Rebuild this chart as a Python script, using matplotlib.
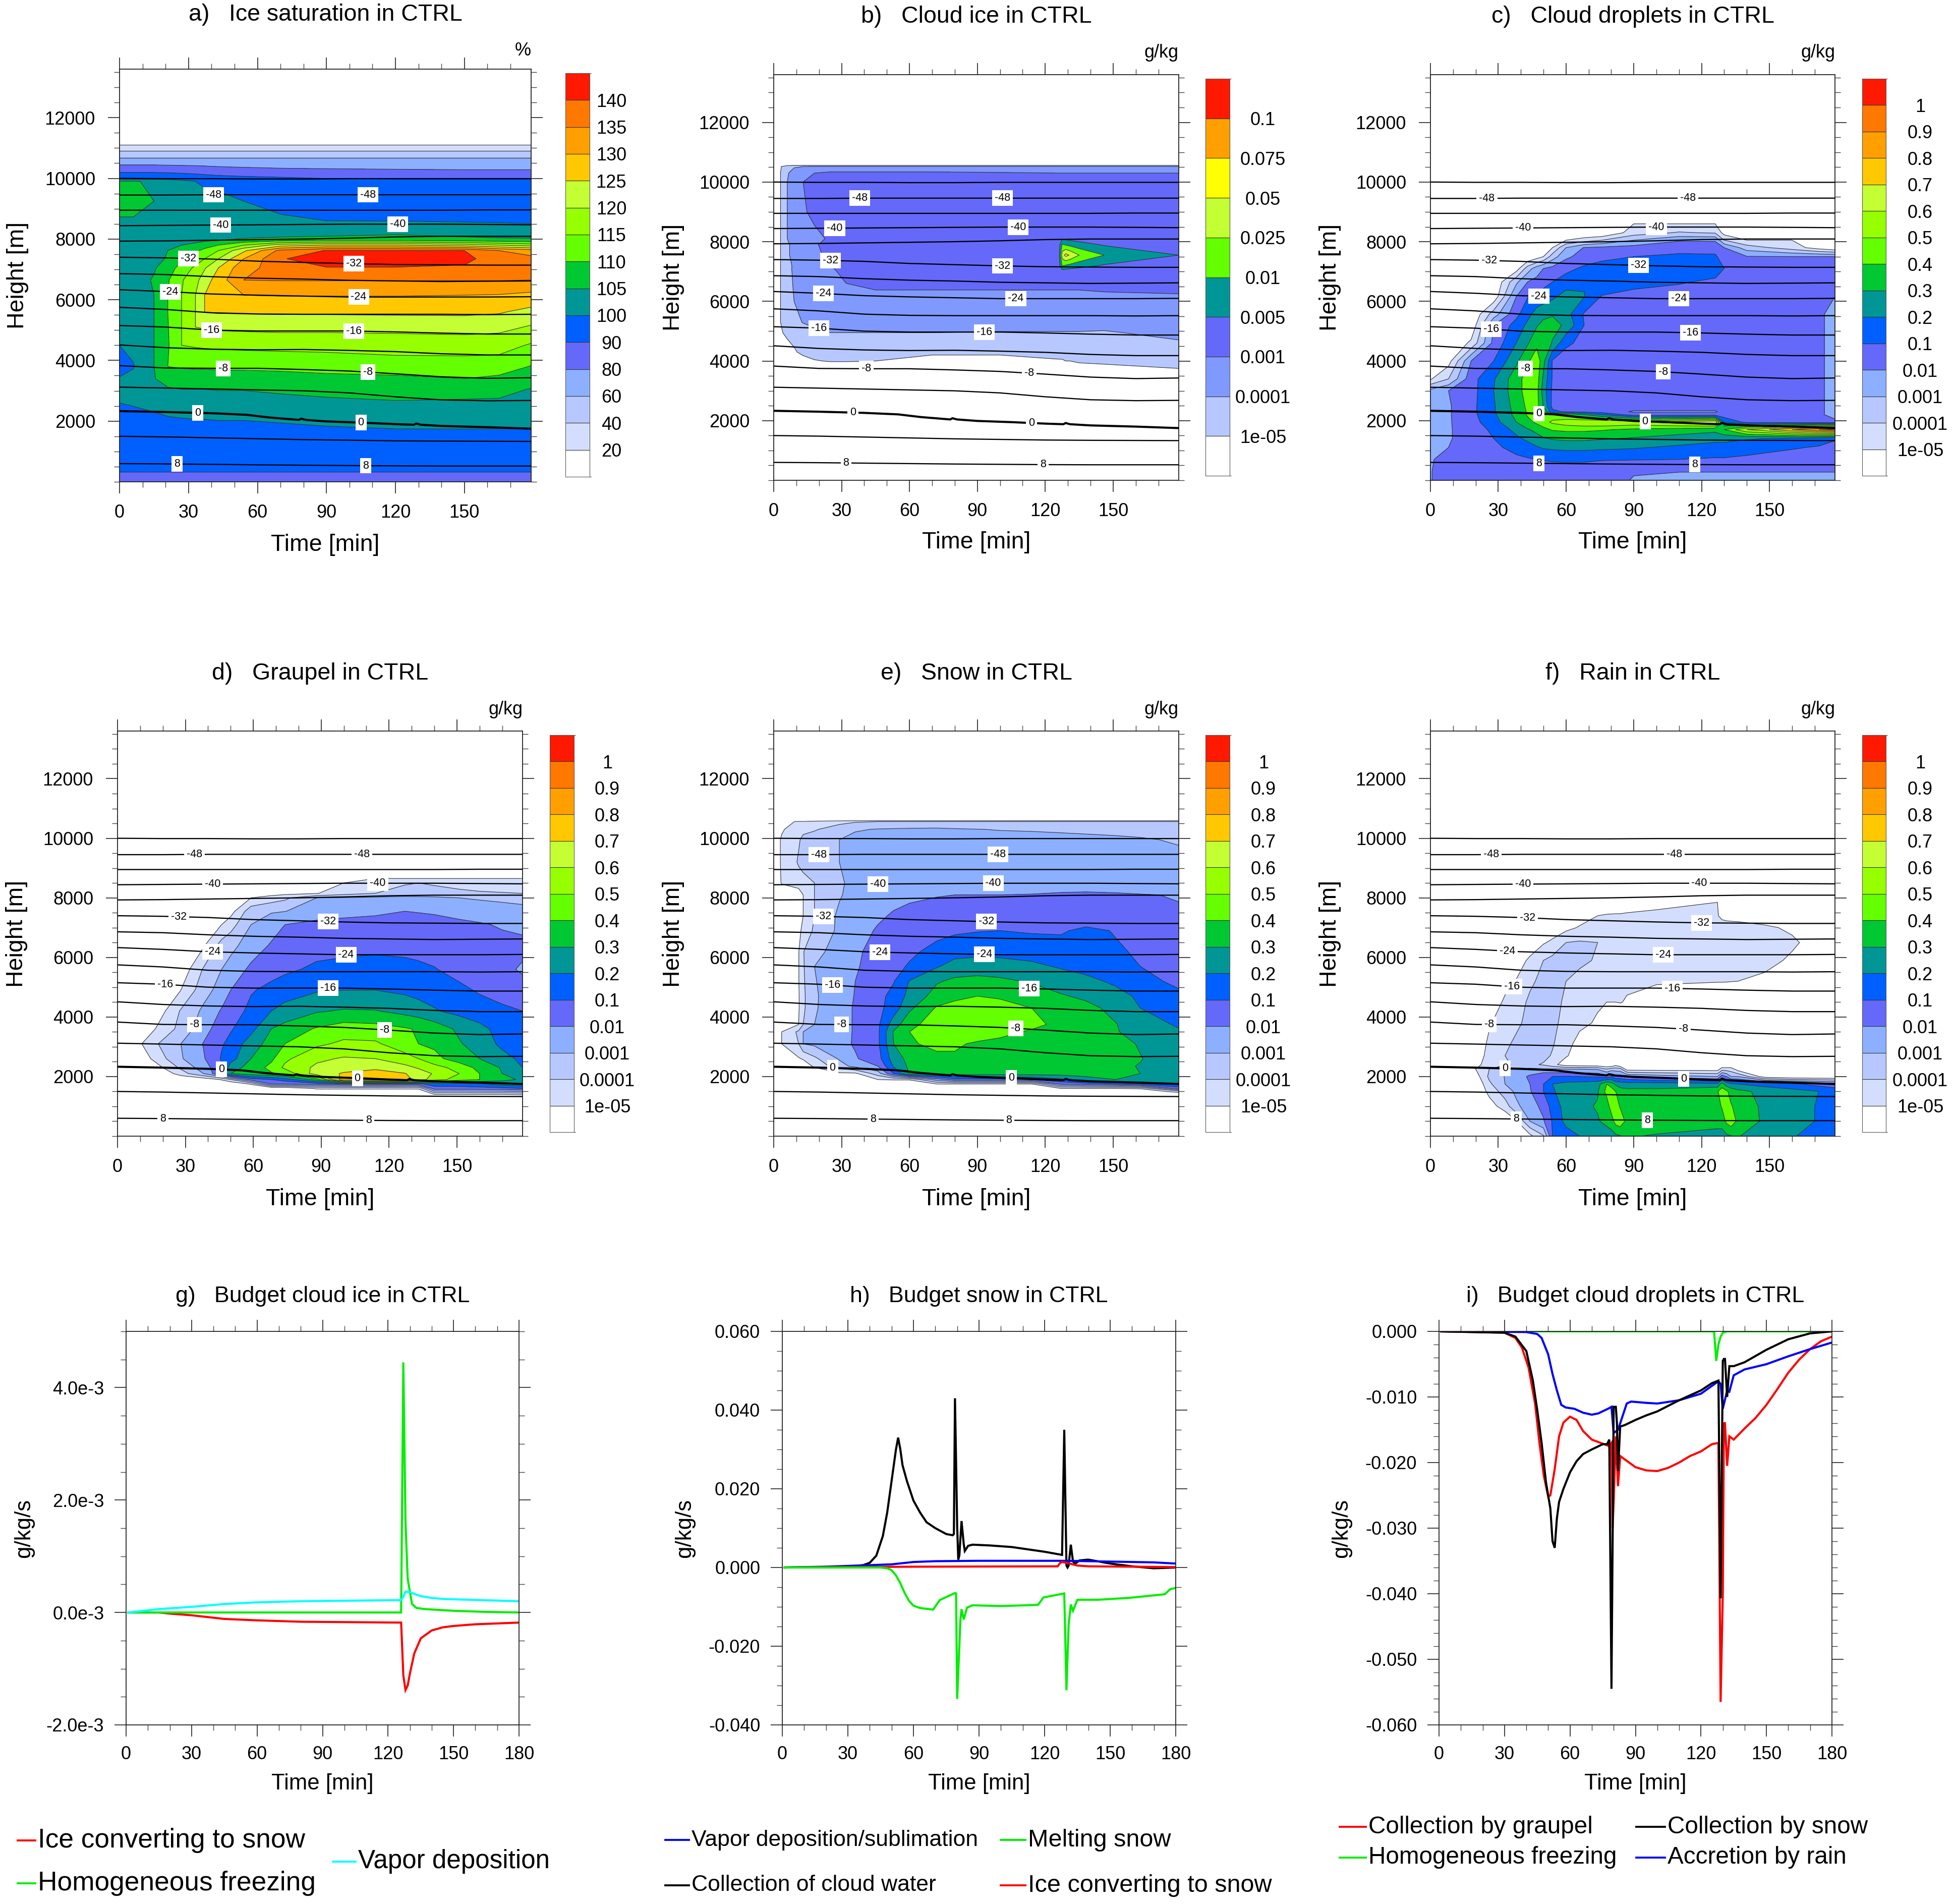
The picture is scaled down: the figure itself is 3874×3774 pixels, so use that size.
import numpy as np
import matplotlib
matplotlib.use('Agg')
import matplotlib.pyplot as plt
from matplotlib.colors import ListedColormap, BoundaryNorm
from matplotlib.lines import Line2D
from matplotlib.ticker import MultipleLocator

plt.rcParams['font.family'] = ['Liberation Sans', 'DejaVu Sans']
plt.rcParams['axes.unicode_minus'] = False

W, H = 3874, 3774

# colour tables, bottom band first
COLORS_FULL = ['#ffffff', '#d3deff', '#b6c8ff', '#8cb0ff', '#6469fa', '#0060ff', '#009696', '#00c832',
               '#64ff00', '#96ff00', '#c3ff32', '#ffc800', '#ffa000', '#ff7800', '#ff1900']
COLORS_ICE = ['#ffffff', '#b6c8ff', '#8099ff', '#6469fa', '#009696', '#64ff00', '#c3ff32', '#ffff00',
              '#ffa000', '#ff1900']

LEVELS_SAT = ['20', '40', '60', '80', '90', '100', '105', '110', '115', '120', '125', '130', '135', '140']
LEVELS_ICE = ['1e-05', '0.0001', '0.001', '0.005', '0.01', '0.025', '0.05', '0.075', '0.1']
LEVELS_Q = ['1e-05', '0.0001', '0.001', '0.01', '0.1', '0.2', '0.3', '0.4', '0.5', '0.6', '0.7', '0.8', '0.9', '1']

# fields are read off the picture as position on the colour scale:
# 3.5 means halfway between the 3rd and the 4th labelled level, below 1 is blank
T_A = [0, 6, 15, 21, 27, 33, 37, 43, 54, 70, 90, 120, 150, 165, 179]
Z_A = [0, 320, 1000, 1700, 2100, 2600, 3050, 3400, 3800, 4500, 5100, 5600, 6150, 6650, 7050, 7350, 7620, 7800,
       7950, 8150, 8600, 9250, 9900, 9980, 10300, 10680, 10900, 11110, 11130, 13600]
BAND_A = [
    [4.5] * 15,
    [5.0] * 15,
    [5.5] * 15,
    [5.5, 5.5, 5.5, 5.5, 5.5, 5.55, 5.55, 5.6, 5.6, 5.7, 5.85, 5.95, 5.95, 5.95, 5.95],
    [5.6, 5.65, 5.8, 5.95, 6.0, 6.05, 6.05, 6.1, 6.1, 6.2, 6.3, 6.4, 6.4, 6.4, 6.4],
    [6.0, 6.1, 6.3, 6.4, 6.45, 6.5, 6.5, 6.5, 6.5, 6.6, 6.75, 6.9, 6.85, 6.85, 6.7],
    [6.3, 6.4, 6.7, 6.9, 7.0, 7.0, 7.0, 7.05, 7.05, 7.2, 7.35, 7.45, 7.4, 7.3, 6.95],
    [6.05, 6.2, 6.95, 7.4, 7.5, 7.5, 7.5, 7.5, 7.55, 7.6, 7.7, 7.8, 8.0, 7.8, 7.6],
    [5.7, 5.95, 7.0, 8.0, 8.1, 8.15, 8.15, 8.2, 8.2, 8.25, 8.4, 8.5, 8.55, 8.5, 7.95],
    [6.0, 6.2, 7.0, 7.9, 9.0, 9.1, 9.15, 9.2, 9.25, 9.3, 9.3, 9.45, 9.45, 9.4, 8.9],
    [6.4, 6.45, 7.0, 7.95, 9.0, 10.0, 10.1, 10.2, 10.25, 10.3, 10.3, 10.3, 10.4, 10.3, 9.9],
    [6.5, 6.5, 7.0, 8.0, 9.0, 10.0, 11.0, 11.1, 11.1, 11.15, 11.15, 11.2, 11.2, 11.1, 10.7],
    [6.5, 6.5, 7.0, 8.0, 9.0, 10.0, 11.0, 12.0, 12.0, 12.05, 12.05, 12.05, 12.0, 11.95, 11.75],
    [6.5, 6.5, 7.1, 7.9, 8.9, 9.7, 10.5, 11.5, 13.0, 13.05, 13.05, 13.05, 13.05, 13.05, 13.0],
    [6.5, 6.5, 6.9, 7.5, 8.4, 9.2, 9.9, 11.0, 12.7, 13.4, 13.95, 13.95, 13.9, 13.5, 13.3],
    [6.4, 6.4, 6.7, 7.1, 7.8, 8.4, 9.0, 10.0, 12.0, 13.9, 14.6, 14.6, 14.2, 13.6, 13.3],
    [6.3, 6.3, 6.5, 7.0, 7.3, 7.8, 8.3, 9.0, 10.8, 13.3, 14.05, 14.05, 14.0, 13.0, 12.5],
    [6.3, 6.3, 6.4, 6.7, 7.0, 7.2, 7.5, 8.0, 9.0, 10.5, 11.0, 11.0, 10.5, 10.0, 9.5],
    [6.2, 6.2, 6.3, 6.4, 6.6, 6.8, 6.9, 7.0, 7.4, 7.8, 8.0, 8.0, 7.8, 7.6, 7.5],
    [6.2, 6.2, 6.3, 6.3, 6.3, 6.3, 6.3, 6.3, 6.3, 6.4, 6.6, 6.95, 6.5, 6.3, 6.2],
    [6.9, 6.9, 6.5, 6.4, 6.35, 6.3, 6.3, 6.3, 6.3, 6.15, 6.0, 5.98, 5.95, 5.95, 5.95],
    [7.4, 7.4, 7.0, 6.7, 6.5, 6.4, 6.4, 6.3, 6.0, 5.7, 5.6, 5.5, 5.5, 5.5, 5.5],
    [7.1, 7.1, 6.8, 6.6, 6.3, 6.0, 5.8, 5.7, 5.6, 5.5, 5.5, 5.5, 5.5, 5.5, 5.5],
    [5.8, 5.8, 5.8, 5.8, 5.7, 5.6, 5.5, 5.4, 5.3, 5.2, 5.05, 5.0, 5.0, 5.0, 5.0],
    [4.6, 4.6, 4.6, 4.55, 4.5, 4.45, 4.4, 4.3, 4.2, 4.1, 4.05, 4.0, 3.95, 3.95, 3.95],
    [3.0] * 15,
    [2.0] * 15,
    [1.0] * 15,
    [0.5] * 15,
    [0.5] * 15,
]

T_B = [0, 3, 6, 9, 13, 18, 25, 32, 45, 70, 100, 126, 127.5, 129, 131, 135, 146, 179]
Z_B = [0, 3500, 3750, 4000, 4300, 4950, 5300, 6000, 6380, 7050, 7200, 7550, 7900, 8100, 9000, 10000, 10300,
       10520, 10560, 13600]
BAND_B = [
    [0] * 18,
    [0] * 18,
    [.5] * 11 + [.6, .6, .6, .65, .7, .8, 1.0],
    [.5, .5, .5, .5, .7, .95, 1.05, 1.05, 1.0, .8, .8, .95, .95, 1.0, 1.0, 1.1, 1.15, 1.3],
    [.5, .5, .6, .9, 1.2, 1.3, 1.3, 1.3, 1.3, 1.1, 1.1, 1.2, 1.2, 1.2, 1.25, 1.3, 1.35, 1.5],
    [.5, .9, 1.2, 1.3, 1.5, 1.7, 2.0, 2.0, 2.0, 2.0, 1.95, 1.95, 1.95, 1.95, 1.95, 1.95, 1.9, 2.3],
    [.5, 1.0, 1.4, 1.7, 2.05, 2.3, 2.4, 2.4, 2.4, 2.4, 2.4, 2.4, 2.4, 2.4, 2.4, 2.4, 2.4, 2.5],
    [.5, 1.0, 1.6, 2.0, 2.3, 2.5, 2.6, 2.7, 2.7, 2.7, 2.7, 2.7, 2.7, 2.7, 2.7, 2.7, 2.75, 2.8],
    [.5, 1.0, 1.7, 2.05, 2.4, 2.55, 2.7, 2.9, 3.0, 3.0, 3.0, 3.0, 3.0, 3.0, 3.0, 3.0, 3.05, 3.1],
    [.5, 1.0, 1.8, 2.1, 2.5, 2.7, 2.9, 3.2, 3.4, 3.5, 3.5, 3.5, 3.9, 3.8, 3.7, 3.6, 3.5, 3.5],
    [.5, 1.0, 1.8, 2.1, 2.6, 2.8, 3.0, 3.25, 3.45, 3.5, 3.5, 3.5, 5.1, 4.9, 4.7, 4.4, 3.9, 3.7],
    [.5, 1.0, 1.9, 2.2, 2.7, 2.9, 3.1, 3.3, 3.5, 3.5, 3.5, 3.5, 6.5, 7.3, 6.9, 6.0, 5.0, 4.0],
    [.5, 1.0, 1.9, 2.2, 2.7, 2.95, 3.15, 3.35, 3.5, 3.5, 3.5, 3.5, 5.1, 4.9, 4.7, 4.4, 3.9, 3.7],
    [.5, 1.0, 2.0, 2.2, 2.5, 2.8, 3.1, 3.4, 3.5, 3.5, 3.5, 3.5, 3.9, 3.8, 3.7, 3.6, 3.5, 3.5],
    [.5, 1.0, 2.0, 2.3, 2.9, 3.2, 3.5, 3.5, 3.5, 3.5, 3.5, 3.5, 3.5, 3.5, 3.5, 3.5, 3.5, 3.5],
    [.5, 1.0, 2.0, 2.5, 3.0, 3.3, 3.5, 3.5, 3.5, 3.5, 3.5, 3.5, 3.5, 3.5, 3.5, 3.5, 3.5, 3.4],
    [.5, 1.0, 1.9, 2.4, 2.8, 3.0, 3.2, 3.2, 3.2, 3.2, 3.1, 3.0, 3.0, 3.0, 3.0, 3.0, 3.0, 3.0],
    [.5, .95, 1.4, 1.9, 2.0, 2.1, 2.1, 2.1, 2.1, 2.1, 2.1, 2.1, 2.1, 2.1, 2.1, 2.1, 2.1, 2.1],
    [0, .5, .9, .95, .95, .95, .95, .95, .95, .95, .95, .95, .95, .95, .95, .95, .95, .95],
    [0] * 18,
]

T_C = [0, 8, 18, 28, 38, 43, 47, 50, 54, 60, 68, 76, 90, 110, 126, 130, 140, 160, 172, 179]
Z_C = [0, 300, 700, 1100, 1400, 1700, 1950, 2200, 2300, 2500, 3000, 3400, 4000, 4600, 5200, 5570, 6160, 6650,
       7100, 7500, 7800, 8050, 8300, 8600, 8650, 13600]
BAND_C = [
    [3.95, 4.5, 4.5, 4.5, 4.5, 4.5, 4.5, 4.5, 4.5, 4.5, 4.5, 4.3, 3.95, 3.5, 3.5, 3.5, 3.5, 3.5, 3.5, 3.5],
    [3.95, 4.5, 4.5, 4.5, 4.5, 4.5, 4.5, 4.5, 4.6, 4.7, 4.7, 4.1, 4.05, 4.05, 4.05, 4.05, 4.05, 4.05, 4.05, 4.05],
    [3.9, 4.4, 4.4, 4.5, 4.8, 4.9, 5.0, 5.05, 5.1, 5.1, 5.1, 5.1, 5.05, 5.0, 4.9, 4.9, 4.8, 4.5, 4.4, 4.3],
    [3.5, 4.0, 4.4, 4.8, 5.3, 5.6, 5.9, 6.1, 6.2, 6.3, 6.3, 6.2, 6.1, 5.8, 5.6, 5.6, 5.4, 5.1, 4.9, 4.7],
    [3.5, 3.9, 4.5, 5.0, 5.8, 6.2, 6.6, 6.9, 7.1, 7.2, 7.2, 7.1, 6.9, 6.6, 6.3, 6.3, 6.1, 5.8, 5.5, 5.1],
    [3.5, 3.9, 4.5, 5.2, 6.3, 6.9, 7.3, 7.7, 8.1, 8.2, 8.2, 8.1, 7.8, 7.5, 7.3, 8.0, 10.0, 12.0, 13.0, 13.5],
    [3.5, 3.9, 4.6, 5.6, 7.0, 7.7, 8.2, 8.6, 9.2, 9.6, 9.9, 10.0, 9.8, 10.5, 11.0, 6.0, 4.7, 4.5, 4.4, 4.3],
    [3.5, 3.9, 4.7, 5.8, 7.3, 8.1, 8.6, 8.7, 8.4, 8.0, 7.0, 6.0, 4.5, 4.5, 4.5, 4.4, 4.5, 4.5, 4.2, 3.6],
    [3.5, 3.9, 4.7, 5.9, 7.3, 8.1, 8.5, 8.0, 5.2, 4.9, 4.7, 4.5, 3.9, 3.9, 3.9, 4.3, 4.5, 4.5, 4.2, 3.6],
    [3.5, 3.9, 4.7, 5.9, 7.4, 8.2, 8.4, 6.9, 4.7, 4.5, 4.5, 4.5, 4.5, 4.5, 4.5, 4.5, 4.5, 4.5, 4.2, 3.6],
    [3.3, 4.0, 4.6, 6.0, 7.6, 8.4, 8.4, 6.5, 4.8, 4.5, 4.5, 4.5, 4.5, 4.5, 4.5, 4.5, 4.5, 4.5, 4.2, 3.6],
    [.9, 2.0, 4.6, 5.9, 7.6, 8.4, 8.5, 6.8, 4.9, 4.5, 4.5, 4.5, 4.5, 4.5, 4.5, 4.5, 4.5, 4.5, 4.2, 3.6],
    [0, .6, 4.0, 5.0, 6.8, 7.8, 8.7, 7.3, 4.9, 4.5, 4.5, 4.5, 4.5, 4.5, 4.5, 4.5, 4.5, 4.5, 4.2, 3.6],
    [0, 0, 1.2, 4.3, 6.0, 6.9, 7.7, 7.8, 6.9, 5.2, 4.7, 4.5, 4.5, 4.5, 4.5, 4.5, 4.5, 4.5, 4.2, 3.6],
    [0, 0, .2, 4.0, 5.4, 6.2, 6.9, 7.3, 7.4, 6.8, 5.0, 4.6, 4.5, 4.5, 4.5, 4.5, 4.5, 4.5, 4.2, 3.6],
    [0, 0, 0, 2.5, 4.7, 5.7, 6.4, 6.7, 6.9, 6.4, 4.9, 4.5, 4.5, 4.5, 4.5, 4.5, 4.5, 4.5, 4.2, 3.6],
    [0, 0, 0, .3, 4.0, 4.95, 5.3, 5.5, 5.8, 6.4, 6.05, 4.9, 4.5, 4.5, 4.5, 4.5, 4.5, 4.5, 4.3, 4.0],
    [0, 0, 0, 0, 2.8, 4.0, 4.3, 4.6, 5.0, 5.5, 5.9, 6.0, 5.5, 5.1, 4.8, 4.6, 4.5, 4.5, 4.4, 4.2],
    [0, 0, 0, 0, .5, 2.5, 3.5, 4.0, 4.3, 4.7, 5.2, 5.5, 5.7, 5.7, 5.5, 5.0, 4.5, 4.5, 4.4, 4.2],
    [0, 0, 0, 0, 0, 0, .5, 1.0, 2.5, 3.8, 4.4, 4.7, 5.0, 5.2, 5.2, 4.3, 4.05, 4.0, 4.0, 4.0],
    [0, 0, 0, 0, 0, 0, 0, .3, 1.0, 3.0, 4.05, 4.2, 4.4, 4.6, 4.5, 4.0, 2.5, 1.5, .5, 0],
    [0, 0, 0, 0, 0, 0, 0, 0, .3, 1.0, 1.5, 2.0, 3.0, 3.9, 3.9, 2.0, 1.0, 1.0, .2, 0],
    [0] * 12 + [1.5, 2.1, 1.9, .6, 0, 0, 0, 0],
    [0] * 12 + [1.0, 1.0, 1.0, 0, 0, 0, 0, 0],
    [0] * 20,
    [0] * 20,
]

T_D = [0, 10, 18, 28, 38, 46, 50, 59, 68, 74, 88, 100, 114, 127, 133, 140, 151, 160, 170, 179]
Z_D = [0, 1300, 1400, 1600, 1750, 1900, 2100, 2300, 2600, 3100, 3600, 4200, 4900, 5600, 6400, 7100, 7550, 8000,
       8150, 8500, 8650, 8700, 13600]
BAND_D = [
    [0] * 20,
    [0] * 20,
    [0] * 15 + [1.0, 1.0, 1.0, 1.0, 1.1],
    [0] * 10 + [1.1, 1.1, 1.1, 1.1, 1.1, 4.5, 4.5, 4.6, 4.7, 5.0],
    [0, 0, 0, 0, 0, 0, 0, 1.1, 4.0, 4.0, 4.5, 4.8, 4.9, 4.8, 4.8, 5.5, 5.6, 5.8, 6.5, 6.8],
    [0, 0, 0, 0, .3, 1.1, 2.0, 4.5, 5.0, 5.5, 7.5, 11.7, 11.8, 11.5, 10.5, 9.5, 8.5, 8.0, 7.2, 6.9],
    [0, 0, 0, 1.5, 3.0, 5.0, 7.0, 7.6, 7.9, 8.3, 10.5, 11.1, 11.4, 11.05, 10.5, 9.9, 9.0, 8.0, 7.0, 6.3],
    [0, 0, .7, 2.2, 3.5, 4.8, 6.5, 7.4, 8.3, 9.2, 10.2, 10.6, 10.8, 10.3, 9.9, 9.4, 8.6, 7.7, 6.9, 6.0],
    [0, .3, 1.5, 2.9, 3.9, 5.1, 5.6, 7.0, 7.8, 8.8, 9.8, 10.1, 10.0, 9.4, 9.0, 8.3, 7.5, 7.0, 6.3, 5.8],
    [0, .9, 2.0, 3.0, 4.05, 4.9, 5.3, 6.5, 7.4, 8.0, 8.8, 9.2, 9.15, 8.4, 8.0, 7.8, 7.1, 6.5, 5.8, 5.2],
    [0, 0, 1.2, 2.3, 3.6, 4.55, 4.9, 5.7, 7.0, 7.4, 8.1, 8.5, 8.4, 8.1, 7.9, 7.6, 6.8, 6.3, 5.6, 5.0],
    [0, 0, .5, 2.1, 3.2, 4.1, 4.4, 5.3, 6.0, 6.3, 6.9, 7.1, 7.05, 6.7, 6.5, 6.1, 5.7, 5.4, 5.2, 5.0],
    [0, 0, 0, 1.0, 2.6, 3.4, 4.0, 4.9, 5.3, 5.6, 5.9, 6.0, 6.0, 5.8, 5.6, 5.5, 5.2, 4.9, 4.6, 4.3],
    [0, 0, 0, .3, 2.1, 3.0, 3.4, 4.2, 4.6, 4.8, 5.2, 5.3, 5.4, 5.3, 5.2, 5.05, 4.7, 4.4, 4.2, 3.9],
    [0, 0, 0, 0, .9, 2.4, 2.7, 3.5, 4.1, 4.3, 4.6, 4.7, 4.75, 4.7, 4.65, 4.6, 4.5, 4.4, 4.3, 4.2],
    [0, 0, 0, 0, 0, 1.0, 1.6, 3.0, 3.6, 4.0, 4.3, 4.4, 4.4, 4.4, 4.4, 4.3, 4.2, 4.1, 3.9, 3.8],
    [0, 0, 0, 0, 0, 0, .6, 2.6, 2.9, 2.98, 3.4, 3.6, 3.8, 4.0, 3.95, 3.9, 3.7, 3.5, 3.4, 3.3],
    [0, 0, 0, 0, 0, 0, 0, 1.0, 1.5, 1.8, 3.0, 3.1, 3.2, 3.3, 3.25, 3.2, 3.0, 2.9, 2.8, 2.7],
    [0, 0, 0, 0, 0, 0, 0, 0, .5, .7, .95, 1.6, 2.0, 2.4, 2.4, 2.3, 2.2, 2.1, 2.05, 2.0],
    [0] * 11 + [1.0, 1.4, 1.9, 2.0, 1.9, 1.7, 1.6, 1.5, 1.5],
    [0] * 11 + [.5, 1, 1, 1, 1, 1, 1, 1, 1],
    [0] * 20,
    [0] * 20,
]

T_E = [0, 3.5, 11, 13, 18, 29, 36, 46, 53, 60, 72, 80, 90, 100, 114, 127, 138, 151, 162, 179]
Z_E = [0, 1400, 1500, 1600, 1750, 1900, 2100, 2350, 2600, 3100, 3500, 3750, 4300, 4700, 5200, 5700, 6200, 6900,
       7400, 8100, 8500, 9200, 9950, 10300, 10560, 10620, 13600]
BAND_E = [
    [0] * 20,
    [0] * 20,
    [0] * 19 + [1.5],
    [0] * 15 + [1.0, 1.0, 1.0, 1.1, 4.5],
    [0] * 10 + [1.0, 1.0, 1.0, 1.0, 1.0, 4.2, 4.6, 5.0, 5.5, 6.0],
    [0] * 7 + [1.0, 1.1, 1.1, 3.5, 4.6, 4.7, 4.8, 5.0, 5.8, 6.7, 7.0, 7.0, 6.2],
    [0, 0, 0, 0, 0, .8, .8, 2.5, 5.0, 7.1, 7.3, 7.5, 7.5, 7.5, 7.5, 7.4, 7.3, 7.2, 7.0, 6.3],
    [0, 0, 0, .3, 1.2, 2.6, 3.3, 4.0, 6.1, 7.2, 7.6, 7.7, 7.7, 7.7, 7.6, 7.5, 7.4, 7.2, 6.95, 6.3],
    [0, 0, .9, 1.1, 1.8, 3.1, 3.9, 4.6, 6.5, 7.3, 7.8, 7.9, 7.9, 7.9, 7.8, 7.6, 7.4, 7.2, 7.05, 6.3],
    [.5, 1.0, 2.0, 3.0, 3.2, 3.7, 4.1, 4.8, 7.0, 7.9, 8.2, 8.1, 7.9, 7.8, 7.7, 7.6, 7.5, 7.4, 6.9, 6.4],
    [0, 1.0, 2.2, 3.0, 3.2, 3.6, 4.1, 4.8, 7.1, 8.0, 8.5, 8.5, 8.4, 8.2, 7.9, 7.6, 7.4, 7.1, 6.5, 6.1],
    [0, .3, 1.0, 2.0, 3.0, 3.6, 4.1, 4.8, 6.5, 7.7, 8.5, 8.6, 8.6, 8.5, 8.2, 7.8, 7.4, 7.05, 6.4, 5.9],
    [0, 0, .9, 1.8, 2.9, 3.6, 4.1, 4.7, 5.5, 6.8, 8.1, 8.3, 8.4, 8.3, 8.0, 7.6, 7.3, 6.7, 6.0, 5.4],
    [0, 0, .9, 1.8, 2.9, 3.5, 4.05, 4.7, 5.3, 6.3, 7.4, 7.8, 8.0, 7.9, 7.6, 7.1, 6.8, 6.4, 5.8, 5.2],
    [0, 0, .95, 1.85, 2.95, 3.5, 4.0, 4.5, 4.95, 6.05, 6.9, 7.2, 7.3, 7.2, 6.9, 6.5, 6.3, 5.8, 5.3, 4.8],
    [0, 0, .95, 1.9, 3.0, 3.4, 3.9, 4.4, 4.7, 5.1, 5.9, 6.4, 6.5, 6.4, 6.2, 5.9, 5.6, 5.3, 5.0, 4.4],
    [0, 0, .95, 1.95, 2.7, 3.4, 3.9, 4.2, 4.5, 4.8, 5.3, 5.6, 5.7, 5.7, 5.6, 5.4, 5.3, 5.1, 4.9, 4.8],
    [0, 0, .8, 1.2, 2.2, 3.2, 3.6, 4.1, 4.3, 4.4, 4.7, 4.85, 4.95, 5.0, 4.9, 4.9, 5.2, 4.95, 4.6, 4.2],
    [0, 0, .5, 1.0, 2.0, 3.2, 3.5, 3.85, 4.1, 4.3, 4.4, 4.4, 4.45, 4.5, 4.5, 4.5, 4.4, 4.3, 4.2, 4.1],
    [0, 0, .3, 1.0, 2.0, 2.9, 3.4, 3.6, 3.7, 3.8, 3.95, 4.0, 4.0, 4.0, 4.05, 4.15, 4.2, 4.15, 4.05, 3.95],
    [0, 1.1, 1.6, 1.8, 2.0, 2.9, 3.2, 3.3, 3.3, 3.3, 3.3, 3.3, 3.3, 3.3, 3.3, 3.4, 3.4, 3.3, 3.3, 3.3],
    [.5, 1.1, 2.1, 2.2, 2.5, 3.0, 3.3, 3.4, 3.4, 3.4, 3.4, 3.4, 3.4, 3.4, 3.4, 3.4, 3.4, 3.4, 3.4, 3.3],
    [.5, 1.1, 1.9, 2.2, 2.5, 3.0, 3.3, 3.4, 3.4, 3.4, 3.4, 3.4, 3.4, 3.4, 3.4, 3.4, 3.3, 3.2, 3.1, 2.9],
    [0, .9, 1.5, 1.8, 1.9, 2.5, 2.9, 3.05, 3.1, 3.15, 3.2, 3.1, 3.02, 2.95, 2.9, 2.8, 2.75, 2.7, 2.65, 2.6],
    [0, .7, 1.1, 1.1, 1.3, 1.7, 1.9, 2.0, 2.0, 2.0, 2.0, 2.0, 2.0, 2.0, 2.0, 2.0, 2.0, 2.0, 2.0, 2.0],
    [0] * 20,
    [0] * 20,
]

T_F = [0, 20, 26, 33, 38, 44, 50, 54, 60, 66, 74, 78, 80, 82, 84, 87, 100, 127, 129, 131, 133, 136, 148, 160, 170, 179]
Z_F = [0, 500, 1000, 1500, 1750, 2000, 2250, 2400, 2700, 3100, 3800, 4500, 5200, 5900, 6500, 7000, 7400, 7600,
       7850, 8000, 13600]
BAND_F = [
    [0, 0, 0, 0, 0, .7, 1.9, 5.0, 5.5, 6.0, 6.3, 6.4, 6.6, 6.8, 6.95, 7.05, 6.95, 6.7, 6.6, 6.8, 6.95, 7.05, 6.5, 6.1, 5.6, 5.4],
    [0, 0, 0, 0, .9, 3.0, 3.9, 5.1, 6.3, 6.6, 6.9, 7.3, 7.5, 8.4, 8.6, 7.7, 7.3, 7.3, 7.4, 8.2, 8.6, 7.8, 6.8, 6.4, 6.0, 5.5],
    [0, 0, .5, 1.5, 2.8, 3.5, 4.3, 5.4, 6.4, 6.7, 7.1, 7.5, 8.4, 8.5, 7.9, 7.4, 7.3, 7.6, 8.1, 8.6, 8.1, 7.6, 6.8, 6.3, 6.0, 5.5],
    [0, 0, 1.3, 2.5, 3.2, 3.9, 5.0, 5.9, 6.4, 6.6, 6.9, 8.3, 8.6, 8.0, 7.4, 7.3, 7.3, 7.9, 8.6, 8.2, 7.6, 7.3, 6.7, 6.4, 6.1, 5.6],
    [0, 0, 1.8, 3.0, 3.5, 4.0, 5.0, 6.0, 6.3, 6.4, 6.6, 8.0, 7.5, 6.8, 6.6, 6.5, 6.5, 6.3, 7.4, 6.5, 6.2, 6.0, 5.6, 5.2, 4.7, 4.4],
    [0, .5, 2.2, 3.05, 3.4, 4.2, 5.0, 5.0, 5.1, 5.0, 4.9, 4.5, 5.0, 4.4, 4.4, 4.1, 3.6, 3.0, 4.6, 4.0, 3.0, 3.0, .5, 0, 0, 0],
    [0, 1.0, 2.0, 2.9, 3.1, 3.2, 3.1, 3.1, 3.0, 3.0, 2.9, 2.0, 2.5, 2.5, 2.4, .5, .5, .5, 1.5, 1.5, 1.5, .5, 0, 0, 0, 0],
    [0, .8, 1.3, 1.9, 2.1, 2.2, 1.9, 1.3, .5, .3, .2, 0, 0, .6] + [0] * 12,
    [0, .5, 1.3, 2.0, 2.5, 2.6, 2.3, 1.9, 1.1, .5, .1] + [0] * 15,
    [0, .3, 1.2, 1.8, 2.2, 2.6, 2.5, 2.1, 1.3, .7, 0] + [0] * 15,
    [0, 0, .9, 1.5, 1.8, 2.3, 2.6, 2.3, 1.6, 1.2, .9, .6] + [0] * 14,
    [0, 0, .2, 1.2, 1.5, 2.2, 2.5, 2.4, 1.8, 1.3, 1.1, 1.0, 1.0, 1.0, 1.05, .9, .5] + [0] * 9,
    [0, 0, 0, .6, 1.1, 1.8, 2.3, 2.4, 2.0, 1.7, 1.3, 1.25, 1.25, 1.25, 1.25, 1.2, 1.1, 1.05, 1.05, 1.04, 1.02, 1.0, .7, .3, 0, 0],
    [0, 0, 0, 0, .2, 1.3, 2.0, 2.3, 2.2, 2.2, 1.9, 1.6, 1.5, 1.5, 1.5, 1.5, 1.5, 1.5, 1.5, 1.5, 1.5, 1.5, 1.4, .8, .3, 0],
    [0, 0, 0, 0, 0, 0, .9, 1.2, 2.0, 2.1, 2.0, 1.6, 1.5, 1.5, 1.5, 1.5, 1.5, 1.5, 1.5, 1.5, 1.5, 1.5, 1.4, 1.2, .6, 0],
    [0, 0, 0, 0, 0, 0, 0, .4, .7, 1.1, 1.3, 1.3, 1.3, 1.3, 1.3, 1.3, 1.3, 1.4, 1.4, 1.4, 1.4, 1.4, 1.2, .8, .2, 0],
    [0] * 8 + [.2, .5, 1.0, 1.1, 1.1, 1.1, 1.1, 1.15, 1.2, 1.05, .8, .7, .65, .6, .3, 0, 0, 0],
    [0] * 10 + [.6, .7, .75, .8, .8, .85, 1.0, 1.1, .3, 0, 0, 0, 0, 0, 0, 0],
    [0] * 16 + [.7, 1.0, .1, 0, 0, 0, 0, 0, 0, 0],
    [0] * 26,
    [0] * 26,
]

# isotherm heights [m], the same in all six panels
ISO_T = [0, 20, 40, 60, 80, 100, 120, 140, 160, 179]
ISO_LEVELS = [8, 4, -4, -8, -12, -16, -20, -24, -28, -32, -36, -40, -44, -48, -52]
ISO_HEIGHTS = [
    [600, 590, 575, 560, 545, 535, 525, 520, 520, 520],
    [1500, 1480, 1450, 1420, 1390, 1370, 1350, 1340, 1335, 1330],
    [3120, 3090, 3060, 3030, 3000, 2930, 2800, 2700, 2670, 2680],
    [3830, 3750, 3740, 3740, 3700, 3650, 3560, 3460, 3410, 3430],
    [4510, 4420, 4370, 4350, 4360, 4330, 4290, 4220, 4180, 4180],
    [5150, 5100, 5000, 4970, 4970, 4970, 4940, 4900, 4870, 4870],
    [5750, 5680, 5570, 5530, 5520, 5520, 5520, 5520, 5510, 5520],
    [6330, 6270, 6190, 6150, 6120, 6090, 6090, 6090, 6090, 6100],
    [6860, 6830, 6760, 6710, 6680, 6640, 6620, 6600, 6610, 6620],
    [7400, 7380, 7340, 7270, 7230, 7190, 7160, 7150, 7140, 7140],
    [7930, 7940, 7960, 7980, 8000, 8030, 8070, 8090, 8090, 8090],
    [8440, 8450, 8460, 8470, 8480, 8490, 8490, 8490, 8480, 8470],
    [8950, 8950, 8950, 8950, 8950, 8950, 8950, 8950, 8960, 8960],
    [9450, 9450, 9460, 9460, 9460, 9460, 9460, 9460, 9460, 9460],
    [10000, 9990, 9990, 9980, 9980, 9990, 9990, 9990, 9990, 9990],
]
ZERO_T = [0, 20, 40, 55, 65, 78, 79, 81, 90, 105, 120, 128, 129, 131, 140, 160, 179]
ZERO_Z = [2330, 2300, 2260, 2210, 2120, 2040, 2080, 2040, 1990, 1950, 1900, 1880, 1920, 1880, 1840, 1800, 1750]

# time of the two inline labels of each labelled isotherm
LABEL_TEMPS = [-48, -40, -32, -24, -16, -8, 0, 8]
LABEL_T_A = [(41, 108), (44, 121), (30, 102), (22, 104), (40, 102), (45, 108), (34, 105), (25, 107)]
LABEL_T_B = [(38, 101), (27, 108), (25, 101), (22, 107), (20, 93), (41, 113), (35, 114), (32, 119)]
LABEL_T_C = [(25, 114), (41, 100), (26, 92), (48, 110), (27, 115), (42, 103), (48, 95), (48, 117)]
LABEL_T_D = [(34, 108), (42, 115), (27, 93), (42, 101), (21, 93), (34, 118), (46, 106), (20, 111)]
LABEL_T_E = [(20, 99), (46, 97), (22, 94), (47, 93), (26, 113), (30, 107), (26, 105), (44, 104)]
LABEL_T_F = [(27, 108), (41, 119), (43, 120), (34, 103), (36, 107), (26, 112), (33, 112), (38, 96)]

# budget curves
ICE_RED_T = [1, 15, 20, 30, 45, 60, 80, 126, 127, 128, 129, 130, 132, 135, 140, 145, 150, 160, 180]
ICE_RED = [0, 0, -.02e-3, -.05e-3, -.115e-3, -.14e-3, -.165e-3, -.18e-3, -1.12e-3, -1.38e-3, -1.30e-3, -1.09e-3,
           -.73e-3, -.46e-3, -.32e-3, -.265e-3, -.24e-3, -.21e-3, -.18e-3]
ICE_GREEN_T = [1, 126, 127, 128, 129, 131, 133, 137, 150, 165, 180]
ICE_GREEN = [0, 0, 4.45e-3, 1.6e-3, .6e-3, .15e-3, .08e-3, .06e-3, .03e-3, .01e-3, 0]
ICE_CYAN_T = [1, 15, 30, 45, 60, 80, 126, 127, 128, 130, 135, 140, 145, 180]
ICE_CYAN = [0, .06e-3, .1e-3, .15e-3, .18e-3, .2e-3, .22e-3, .28e-3, .37e-3, .36e-3, .29e-3, .26e-3, .24e-3, .2e-3]

SNOW_BLACK_T = [1, 30, 37, 40, 43, 46, 48, 50, 52, 53, 54, 55, 57, 60, 63, 66, 70, 75, 78, 78.5, 79, 80, 80.5, 81,
                82, 83, 83.5, 85, 87, 95, 105, 120, 128, 129, 130, 130.5, 131, 132, 133, 134, 136, 140, 150, 160,
                170, 180]
SNOW_BLACK = [0, .0002, .0006, .0012, .003, .008, .014, .022, .030, .033, .030, .026, .022, .017, .014, .0115, .010,
              .0085, .0082, .0085, .043, .0105, .002, .003, .0118, .006, .0042, .0055, .0058, .0056, .0052, .004,
              .0032, .035, .0005, 0, .0005, .0058, .0015, .001, .0018, .002, .001, .0003, -.0002, 0]
SNOW_BLUE_T = [1, 20, 35, 50, 55, 60, 70, 90, 130, 150, 170, 180]
SNOW_BLUE = [0, .0002, .0005, .0008, .0011, .0014, .0016, .0017, .0017, .0015, .0013, .001]
SNOW_RED_T = [1, 60, 126, 127, 128, 130, 135, 140, 180]
SNOW_RED = [0, .0002, .0003, .0011, .0014, .0012, .0005, .0003, .0001]
SNOW_GREEN_T = [1, 45, 48, 50, 52, 54, 56, 58, 60, 63, 69, 72, 75, 79, 79.5, 80, 81.5, 82, 83, 84.5, 87, 100, 117,
                119.5, 129, 130, 131, 132, 133, 135, 144.5, 159, 175, 177.5, 180]
SNOW_GREEN = [0, 0, -.0002, -.0007, -.002, -.004, -.0065, -.0085, -.0097, -.0103, -.0107, -.0083, -.0075, -.0065,
              -.0066, -.0334, -.0132, -.0106, -.0132, -.0102, -.0096, -.0098, -.0095, -.0076, -.0066, -.0312,
              -.0145, -.0094, -.011, -.0082, -.0082, -.0077, -.0068, -.0055, -.0052]

DROP_RED_T = [1, 30, 35, 38, 41, 44, 46, 48, 50, 51, 53, 55, 57, 60, 63, 66, 70, 74, 78, 79, 79.5, 80, 81, 82, 83,
              85, 90, 95, 100, 105, 110, 115, 120, 125, 128, 129, 130, 130.5, 131, 132, 133, 135, 140, 145, 150,
              155, 160, 165, 170, 175, 180]
DROP_RED = [0, -.0002, -.001, -.0025, -.0055, -.011, -.017, -.022, -.0252, -.025, -.021, -.016, -.0139, -.013,
            -.0135, -.0152, -.0165, -.017, -.0175, -.017, -.03, -.026, -.016, -.0236, -.019, -.0195, -.0207, -.0212,
            -.0213, -.0208, -.02, -.019, -.0183, -.0172, -.017, -.0565, -.04, -.014, -.014, -.0205, -.016, -.0165,
            -.0148, -.0132, -.0112, -.0088, -.0063, -.0043, -.0027, -.0015, -.0008]
DROP_BLACK_T = [1, 30, 35, 40, 43, 45, 47, 49, 50, 51, 52, 53, 54, 55, 57, 60, 63, 66, 70, 75, 77, 78, 79, 80, 81,
                81.5, 82, 83, 85, 90, 95, 100, 110, 120, 125, 128, 129, 130, 130.5, 131, 132, 133, 135, 140, 150,
                160, 170, 180]
DROP_BLACK = [0, -.0002, -.0008, -.003, -.0075, -.012, -.017, -.023, -.025, -.027, -.032, -.033, -.0285, -.026,
              -.024, -.0215, -.0198, -.0187, -.018, -.0172, -.0172, -.0165, -.0545, -.0115, -.0115, -.014, -.0213,
              -.0145, -.0143, -.0135, -.0128, -.0122, -.0105, -.009, -.0079, -.0075, -.0407, -.0045, -.0042, -.0042,
              -.01, -.0053, -.0053, -.0047, -.0028, -.0012, -.0003, 0]
DROP_BLUE_T = [1, 40, 45, 47, 50, 52, 54, 56, 58, 62, 66, 70, 73, 78, 79, 80, 82, 84, 86, 88, 95, 100, 110, 120,
               128, 129, 130, 132, 133, 135, 140, 150, 160, 170, 180]
DROP_BLUE = [0, -.0001, -.0004, -.001, -.0035, -.0065, -.009, -.0112, -.0116, -.0118, -.0124, -.0127, -.0125, -.0117,
             -.0115, -.0155, -.015, -.013, -.011, -.0107, -.0109, -.011, -.0105, -.0095, -.0076, -.008, -.0118,
             -.009, -.0092, -.0067, -.0058, -.005, -.0038, -.0027, -.0017]
DROP_GREEN_T = [1, 126, 127, 128, 129, 130, 132, 180]
DROP_GREEN = [0, 0, -.0045, -.002, -.0008, -.0002, 0, 0]


def px_x(x):
    return x / W


def px_y(y):
    return 1 - y / H


def add_box(fig, left, top, right, bottom):
    return fig.add_axes([px_x(left), px_y(bottom), (right - left) / W, (bottom - top) / H])


def style_axes(ax, label_pad, x_pad=15, major_x=30, minor_x=10):
    for s in ax.spines.values():
        s.set_linewidth(1.3)
        s.set_color('#222222')
    ax.xaxis.set_major_locator(MultipleLocator(major_x))
    ax.xaxis.set_minor_locator(MultipleLocator(minor_x))
    ax.tick_params(which='major', direction='out', length=16.5, width=1.2, top=True, right=True,
                   labelsize=26, color='#222222')
    ax.tick_params(which='minor', direction='out', length=8, width=1.0, top=True, right=True, color='#444444')
    ax.tick_params(axis='y', which='major', pad=label_pad)
    ax.tick_params(axis='x', which='major', pad=x_pad)


def contour_panel(fig, box, cbox, cb_label_x, title, title_y, unit, unit_gap, t, z, band, colors, labels, label_t,
                  ylabel_x, xlabel_y):
    left, top, right, bottom = box
    ax = add_box(fig, left, top, right, bottom)
    n = len(colors)
    edges = np.arange(n + 1)
    cmap = ListedColormap(colors)
    norm = BoundaryNorm(edges, cmap.N)
    field = np.array(band, dtype=float)

    cf = ax.contourf(t, z, field, levels=edges, cmap=cmap, norm=norm)
    ax.contour(t, z, field, levels=edges[1:-1], colors='#333333', linewidths=0.8)

    heights = np.array(ISO_HEIGHTS)
    for i, lev in enumerate(ISO_LEVELS):
        ax.plot(ISO_T, heights[i], color='black', lw=1.7, zorder=4)
    ax.plot(ZERO_T, ZERO_Z, color='black', lw=3.0, zorder=4)

    for temp, times in zip(LABEL_TEMPS, label_t):
        for tt in times:
            if temp == 0:
                zz = np.interp(tt, ZERO_T, ZERO_Z)
            else:
                zz = np.interp(tt, ISO_T, heights[ISO_LEVELS.index(temp)])
            ax.text(tt, zz, str(temp), fontsize=15.5, ha='center', va='center', zorder=5,
                    bbox=dict(fc='white', ec='none', pad=3.5))

    ax.set_xlim(0, 179)
    ax.set_ylim(0, 13600)
    ax.set_yticks(range(2000, 12001, 2000))
    ax.yaxis.set_minor_locator(MultipleLocator(500))
    style_axes(ax, 18)

    ax.set_xlabel('Time [min]', fontsize=33.5)
    ax.xaxis.set_label_coords(0.5, (bottom - xlabel_y) / (bottom - top))
    ax.xaxis.label.set_va('center')
    ax.set_ylabel('Height [m]', fontsize=33.5)
    ax.yaxis.set_label_coords((ylabel_x - left) / (right - left), 0.5)
    ax.yaxis.label.set_va('center')

    fig.text(px_x((left + right) / 2), px_y(title_y), title, fontsize=33.5, ha='center', va='center')
    fig.text(px_x(right), px_y(top - unit_gap), unit, fontsize=26, ha='right', va='center')

    cax = add_box(fig, *cbox)
    cb = fig.colorbar(cf, cax=cax, drawedges=True, spacing='uniform')
    cb.set_ticks(edges[1:-1])
    cb.set_ticklabels(labels, ha='center')
    cb.ax.tick_params(length=0, labelsize=26, pad=(cb_label_x - cbox[2]) * 0.72)
    cb.outline.set_linewidth(0.8)
    cb.outline.set_edgecolor('#555555')
    cb.dividers.set_color('#333333')
    cb.dividers.set_linewidth(0.8)
    return ax


def budget_panel(fig, box, title, curves, ylim, yticks, yticklabels, minor_y, ylabel_x, label_pad):
    left, top, right, bottom = box
    ax = add_box(fig, left, top, right, bottom)
    for tt, vals, col in curves:
        ax.plot(tt, vals, color=col, lw=3.0, solid_joinstyle='miter')
    ax.set_xlim(0, 180)
    ax.set_ylim(*ylim)
    ax.set_yticks(yticks)
    ax.set_yticklabels(yticklabels)
    ax.yaxis.set_minor_locator(MultipleLocator(minor_y))
    style_axes(ax, label_pad, x_pad=13)
    ax.set_xlabel('Time [min]', fontsize=31.5)
    ax.xaxis.set_label_coords(0.5, (bottom - 3536) / (bottom - top))
    ax.xaxis.label.set_va('center')
    ax.set_ylabel('g/kg/s', fontsize=31.5)
    ax.yaxis.set_label_coords((ylabel_x - left) / (right - left), 0.5)
    ax.yaxis.label.set_va('center')
    fig.text(px_x((left + right) / 2), px_y(2569), title, fontsize=32.2, ha='center', va='center')
    return ax


def legend_entry(fig, x0, x1, y, text, col, size):
    fig.add_artist(Line2D([px_x(x0), px_x(x1)], [px_y(y), px_y(y)], color=col, lw=2.8,
                          transform=fig.transFigure))
    fig.text(px_x(x1 + 5), px_y(y), text, fontsize=size, ha='left', va='center')


fig = plt.figure(figsize=(W / 100, H / 100), dpi=100)

contour_panel(fig, (237, 137, 1053, 955), (1121, 145, 1169, 945), 1212, 'a)   Ice saturation in CTRL', 29, '%', 37,
              T_A, Z_A, BAND_A, COLORS_FULL, LEVELS_SAT, LABEL_T_A, 35, 1080)
contour_panel(fig, (1534, 148, 2337, 952), (2390, 156, 2438, 943), 2504, 'b)   Cloud ice in CTRL', 33, 'g/kg', 43,
              T_B, Z_B, BAND_B, COLORS_ICE, LEVELS_ICE, LABEL_T_B, 1335, 1075)
contour_panel(fig, (2836, 148, 3638, 952), (3692, 156, 3739, 943), 3807, 'c)   Cloud droplets in CTRL', 33, 'g/kg', 43,
              T_C, Z_C, BAND_C, COLORS_FULL, LEVELS_Q, LABEL_T_C, 2637, 1075)
contour_panel(fig, (233, 1449, 1036, 2252), (1090, 1457, 1138, 2244), 1204, 'd)   Graupel in CTRL', 1335, 'g/kg', 43,
              T_D, Z_D, BAND_D, COLORS_FULL, LEVELS_Q, LABEL_T_D, 33, 2377)
contour_panel(fig, (1534, 1449, 2337, 2252), (2390, 1457, 2438, 2244), 2505, 'e)   Snow in CTRL', 1335, 'g/kg', 43,
              T_E, Z_E, BAND_E, COLORS_FULL, LEVELS_Q, LABEL_T_E, 1335, 2377)
contour_panel(fig, (2836, 1449, 3638, 2252), (3692, 1457, 3739, 2244), 3807, 'f)   Rain in CTRL', 1335, 'g/kg', 43,
              T_F, Z_F, BAND_F, COLORS_FULL, LEVELS_Q, LABEL_T_F, 2637, 2377)

budget_panel(fig, (250, 2639, 1029, 3419), 'g)   Budget cloud ice in CTRL',
             [(ICE_RED_T, ICE_RED, '#ff0000'), (ICE_GREEN_T, ICE_GREEN, '#00ee00'), (ICE_CYAN_T, ICE_CYAN, '#00ffff')],
             (-2e-3, 5e-3), [-2e-3, 0, 2e-3, 4e-3], ['-2.0e-3', '0.0e-3', '2.0e-3', '4.0e-3'], 0.5e-3, 48, 15)
budget_panel(fig, (1551, 2639, 2331, 3419), 'h)   Budget snow in CTRL',
             [(SNOW_BLACK_T, SNOW_BLACK, 'black'), (SNOW_BLUE_T, SNOW_BLUE, '#0000ff'), (SNOW_RED_T, SNOW_RED, '#ff0000'),
              (SNOW_GREEN_T, SNOW_GREEN, '#00ee00')],
             (-.04, .06), [-.04, -.02, 0, .02, .04, .06], ['-0.040', '-0.020', '0.000', '0.020', '0.040', '0.060'],
             .005, 1358, 15)
budget_panel(fig, (2853, 2639, 3632, 3419), 'i)   Budget cloud droplets in CTRL',
             [(DROP_GREEN_T, DROP_GREEN, '#00ee00'), (DROP_RED_T, DROP_RED, '#ff0000'), (DROP_BLUE_T, DROP_BLUE, '#0000ff'),
              (DROP_BLACK_T, DROP_BLACK, 'black')],
             (-.06, 0), [-.06, -.05, -.04, -.03, -.02, -.01, 0],
             ['-0.060', '-0.050', '-0.040', '-0.030', '-0.020', '-0.010', '0.000'], .002, 2660, 15)

legend_entry(fig, 35, 70, 3648, 'Ice converting to snow', '#ff0000', 38.3)
legend_entry(fig, 35, 70, 3733, 'Homogeneous freezing', '#00ee00', 38.3)
legend_entry(fig, 660, 705, 3690, 'Vapor deposition', '#00ffff', 36.8)
legend_entry(fig, 1319, 1366, 3647, 'Vapor deposition/sublimation', '#0000ff', 32)
legend_entry(fig, 1984, 2033, 3647, 'Melting snow', '#00ee00', 35)
legend_entry(fig, 1319, 1366, 3737, 'Collection of cloud water', 'black', 32)
legend_entry(fig, 1984, 2033, 3737, 'Ice converting to snow', '#ff0000', 35)
legend_entry(fig, 2656, 2708, 3621, 'Collection by graupel', '#ff0000', 34.3)
legend_entry(fig, 3244, 3301, 3621, 'Collection by snow', 'black', 34.3)
legend_entry(fig, 2656, 2708, 3682, 'Homogeneous freezing', '#00ee00', 34.3)
legend_entry(fig, 3244, 3301, 3682, 'Accretion by rain', '#0000ff', 34.3)

fig.savefig('out.png', dpi=100, facecolor='white')
